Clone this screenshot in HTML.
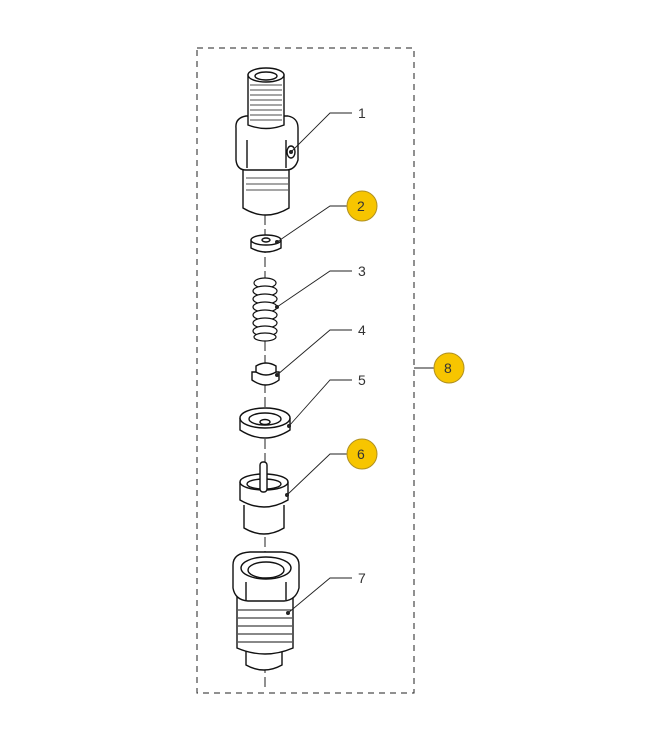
<!DOCTYPE html>
<html><head><style>
html,body{margin:0;padding:0;background:#fff;}
svg{display:block}
text{font-family:"Liberation Sans",sans-serif;font-size:14px;fill:#333}
</style></head><body>
<svg width="667" height="736" viewBox="0 0 667 736" xmlns="http://www.w3.org/2000/svg">
<rect x="197" y="48" width="217" height="645" fill="none" stroke="#222" stroke-width="1" stroke-dasharray="6,5"/>
<line x1="265" y1="215" x2="265" y2="690" stroke="#222" stroke-width="1" stroke-dasharray="10,4"/>
<g fill="#fff" stroke="#111" stroke-width="1.4">
<!-- part 1 -->
<path d="M243 165 L243 208 Q266 222 289 208 L289 165 Z"/>
<path d="M236 128 Q235 118 246 116 L288 116 Q298 118 298 128 L298 160 Q295 170 286 170 L246 170 Q237 170 236 160 Z"/>
<line x1="247" y1="140" x2="247" y2="168"/><line x1="286" y1="140" x2="286" y2="168"/>
<path d="M248 75 L248 125 Q266 132 284 125 L284 75 Z"/>
<ellipse cx="266" cy="75" rx="18" ry="7"/><ellipse cx="266" cy="76" rx="11" ry="4"/>
<g stroke-width="0.8"><path d="M250 85h32M250 90h32M250 95h32M250 100h32M250 105h32M250 110h32M250 115h32M250 120h32"/>
<path d="M246 178h42M246 184h42M246 190h42"/></g>
<ellipse cx="291" cy="152" rx="4" ry="6"/>
<!-- part 2 -->
<path d="M251 240 L251 248 Q266 256 281 248 L281 240"/>
<ellipse cx="266" cy="240" rx="15" ry="5"/><ellipse cx="266" cy="240" rx="4" ry="2"/>
<!-- part 3 -->
<g stroke-width="1.2">
<ellipse cx="265" cy="283" rx="11" ry="5"/><ellipse cx="265" cy="291" rx="12" ry="5"/><ellipse cx="265" cy="299" rx="12" ry="5"/>
<ellipse cx="265" cy="307" rx="12" ry="5"/><ellipse cx="265" cy="315" rx="12" ry="5"/><ellipse cx="265" cy="323" rx="12" ry="5"/>
<ellipse cx="265" cy="331" rx="12" ry="5"/><ellipse cx="265" cy="337" rx="11" ry="4"/></g>
<!-- part 4 -->
<path d="M252 372 L252 380 Q266 390 279 380 L279 372 Z"/>
<path d="M256 372 L256 366 Q266 360 276 366 L276 372 Q266 378 256 372 Z"/>
<!-- part 5 -->
<path d="M240 418 L240 430 Q265 446 290 430 L290 418"/>
<ellipse cx="265" cy="418" rx="25" ry="10"/><ellipse cx="265" cy="419" rx="16" ry="6"/><ellipse cx="265" cy="422" rx="5" ry="2.5"/>
<!-- part 6 -->
<path d="M244 505 L244 528 Q264 540 284 528 L284 505"/>
<path d="M240 482 L240 500 Q264 514 288 500 L288 482"/>
<ellipse cx="264" cy="482" rx="24" ry="8"/><ellipse cx="264" cy="484" rx="17" ry="5"/>
<rect x="260" y="462" width="7" height="30" rx="3"/>
<!-- part 7 -->
<path d="M246 645 L246 665 Q264 675 282 665 L282 645"/>
<path d="M237 595 L237 648 Q265 660 293 648 L293 595 Z"/>
<g stroke-width="0.9"><path d="M238 610h54M238 618h54M238 626h54M238 634h54M238 642h54"/></g>
<path d="M233 565 Q233 553 250 552 L282 552 Q299 553 299 565 L299 588 Q296 600 284 601 L248 601 Q235 600 233 588 Z"/>
<ellipse cx="266" cy="568" rx="25" ry="11"/><ellipse cx="266" cy="570" rx="18" ry="8"/>
<line x1="246" y1="582" x2="246" y2="600"/><line x1="286" y1="582" x2="286" y2="600"/>
</g>
<!-- leaders -->
<g fill="none" stroke="#222" stroke-width="0.9">
<polyline points="291,152 330,113 352,113"/>
<polyline points="277,242 330,206 347,206"/>
<polyline points="277,307 330,271 352,271"/>
<polyline points="277,375 330,330 352,330"/>
<polyline points="289,426 330,380 352,380"/>
<polyline points="287,495 330,454 347,454"/>
<polyline points="288,613 330,578 352,578"/>
<polyline points="414,368 434,368"/>
</g>
<g fill="#222"><circle cx="291" cy="152" r="2"/><circle cx="277" cy="242" r="2"/><circle cx="277" cy="307" r="2"/><circle cx="277" cy="375" r="2"/><circle cx="289" cy="426" r="2"/><circle cx="287" cy="495" r="2"/><circle cx="288" cy="613" r="2"/></g>
<g fill="#f7c500" stroke="#b09020" stroke-width="1"><circle cx="362" cy="206" r="15"/><circle cx="362" cy="454" r="15"/><circle cx="449" cy="368" r="15"/></g>
<text x="358" y="118">1</text><text x="357" y="211">2</text><text x="358" y="276">3</text><text x="358" y="335">4</text>
<text x="358" y="385">5</text><text x="357" y="459">6</text><text x="358" y="583">7</text><text x="444" y="373">8</text>
</svg>
</body></html>
